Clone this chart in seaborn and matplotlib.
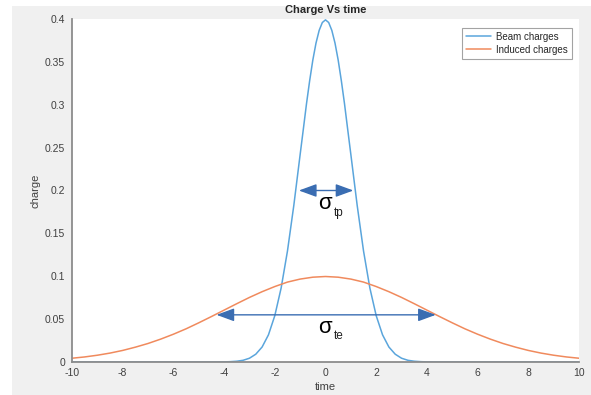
import pandas as pd
import matplotlib.pyplot as plt
import seaborn as sns
from matplotlib.ticker import FuncFormatter
from matplotlib.patches import Rectangle

# values
beam_t = [-10, -4.5, -4, -3.75, -3.5, -3.25, -3, -2.75, -2.5, -2.25, -2, -1.75, -1.5, -1.25, -1,
          -0.875, -0.75, -0.625, -0.5, -0.375, -0.25, -0.125, 0, 0.125, 0.25, 0.375, 0.5, 0.625,
          0.75, 0.875, 1, 1.25, 1.5, 1.75, 2, 2.25, 2.5, 2.75, 3,
          3.25, 3.5, 3.75, 4, 4.5, 10]
beam_q = [0, 0, 0.0001, 0.0004, 0.0009, 0.0020, 0.0044, 0.0091, 0.0175, 0.0317, 0.0540, 0.0863,
          0.1295, 0.1826, 0.2420, 0.2714, 0.3011, 0.3280, 0.3521, 0.3719, 0.3867, 0.3959, 0.3990,
          0.3959, 0.3867, 0.3719, 0.3521, 0.3280, 0.3011, 0.2714, 0.2420,
          0.1826, 0.1295, 0.0863, 0.0540, 0.0317, 0.0175, 0.0091, 0.0044, 0.0020, 0.0009, 0.0004,
          0.0001, 0, 0]

induced_t = [-10, -9.5, -9, -8.5, -8, -7.5, -7, -6.5, -6, -5.5, -5, -4.5, -4, -3.5, -3, -2.5, -2,
             -1.5, -1, -0.5, 0, 0.5, 1, 1.5, 2, 2.5, 3, 3.5, 4, 4.5, 5, 5.5, 6, 6.5, 7, 7.5, 8,
             8.5, 9, 9.5, 10]
induced_q = [0.0044, 0.0059, 0.0079, 0.0104, 0.0135, 0.0173, 0.0216, 0.0267, 0.0324, 0.0387,
             0.0457, 0.0530, 0.0605, 0.0680, 0.0753, 0.0820, 0.0880, 0.0932, 0.0967, 0.0989,
             0.0997, 0.0989, 0.0967, 0.0932, 0.0880, 0.0820, 0.0753, 0.0680, 0.0605, 0.0530,
             0.0457, 0.0387, 0.0324, 0.0267, 0.0216, 0.0173, 0.0135, 0.0104, 0.0079, 0.0059,
             0.0044]

series_names = ['Beam charges', 'Induced charges']
line_colors = ['#5aa5dc', '#f08a5d']

df = pd.concat([
    pd.DataFrame({'time': beam_t, 'charge': beam_q, 'series': series_names[0]}),
    pd.DataFrame({'time': induced_t, 'charge': induced_q, 'series': series_names[1]}),
])

sns.set_style('white')
plt.rcParams['font.family'] = ['Liberation Sans', 'DejaVu Sans']
plt.rcParams['axes.unicode_minus'] = False

fig = plt.figure(figsize=(5.91, 3.95), dpi=100, facecolor='white')
# grey window area (white strip on the left and top edges)
fig.patches.append(Rectangle((12 / 591, 0), 1, (395 - 6) / 395, transform=fig.transFigure,
                             facecolor='#f0f0f0', edgecolor='none', zorder=-10))
ax = fig.add_axes([72 / 591, 33 / 395, 507 / 591, 343 / 395])
ax.set_facecolor('white')

sns.lineplot(data=df, x='time', y='charge', hue='series', palette=line_colors,
             linewidth=1.1, ax=ax, sort=False, estimator=None)

ax.set_xlim(-10, 10)
ax.set_ylim(0, 0.4)
ax.set_xticks(range(-10, 11, 2))
ax.set_yticks([i * 0.05 for i in range(9)])
ax.yaxis.set_major_formatter(FuncFormatter(lambda v, p: '%g' % round(v, 3)))

for s in ['top', 'right']:
    ax.spines[s].set_visible(False)
for s in ['left', 'bottom']:
    ax.spines[s].set_color('#8c8c8c')
    ax.spines[s].set_linewidth(1.3)
ax.tick_params(direction='in', length=4, width=0.8, color='#8c8c8c',
               labelsize=7.5, labelcolor='#404040')
ax.tick_params(axis='x', pad=4)
ax.tick_params(axis='y', pad=5)

ax.set_title('Charge Vs time', fontsize=8, fontweight='bold', pad=4)
ax.set_xlabel('time', fontsize=8, color='#404040', labelpad=3)
ax.set_ylabel('charge', fontsize=8, color='#404040', labelpad=3)

leg = ax.legend(loc='upper right', bbox_to_anchor=(0.986, 0.974), borderaxespad=0,
                fontsize=7, frameon=True, fancybox=False, edgecolor='#8c8c8c',
                handlelength=2.6, handletextpad=0.5, borderpad=0.4, labelspacing=0.3,
                title=None)
leg.get_frame().set_linewidth(0.8)

arrow_col = '#3a6db2'
head = '<|-|>,head_length=0.6,head_width=0.22'
ax.annotate('', xy=(-1.05, 0.2), xytext=(1.1, 0.2),
            arrowprops=dict(arrowstyle=head, color=arrow_col, lw=1.0,
                            mutation_scale=18, shrinkA=0, shrinkB=0))
ax.annotate('', xy=(-4.3, 0.055), xytext=(4.35, 0.055),
            arrowprops=dict(arrowstyle=head, color=arrow_col, lw=1.0,
                            mutation_scale=18, shrinkA=0, shrinkB=0))
for y0, y1, sub in [(0.1784, 0.1703, 'tp'), (0.0338, 0.0268, 'te')]:
    ax.text(-0.3, y0, '\u03c3', fontsize=16, color='black', va='baseline')
    ax.text(0.33, y1, sub, fontsize=8.5, color='#202020', va='baseline')

fig.savefig('out.png', dpi=100)
